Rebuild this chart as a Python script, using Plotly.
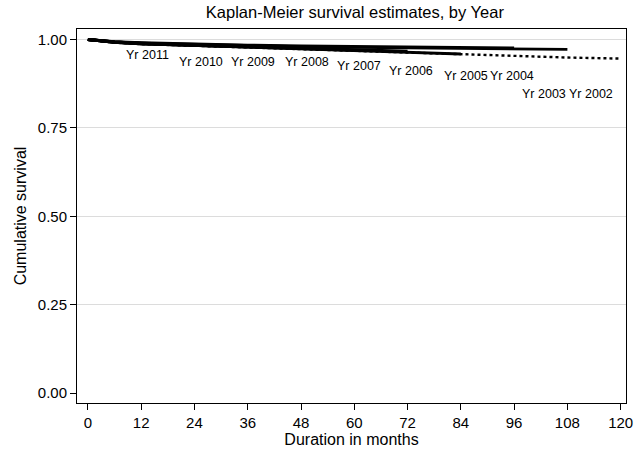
import plotly.graph_objects as go

# ---- data ----
months = [0, 3, 6, 12, 24, 36, 48, 60, 72, 84, 96, 108, 120]
years = ["2011", "2010", "2009", "2008", "2007", "2006", "2005", "2004", "2003", "2002"]
surv = {
    "2011": [1.0, 0.995, 0.992, 0.989],
    "2010": [1.0, 0.996, 0.993, 0.990, 0.985],
    "2009": [1.0, 0.995, 0.992, 0.988, 0.983, 0.979],
    "2008": [1.0, 0.996, 0.993, 0.989, 0.985, 0.980, 0.976],
    "2007": [1.0, 0.995, 0.992, 0.988, 0.984, 0.979, 0.974, 0.969],
    "2006": [1.0, 0.996, 0.993, 0.989, 0.985, 0.981, 0.977, 0.972, 0.967],
    "2005": [1.0, 0.995, 0.992, 0.988, 0.983, 0.978, 0.974, 0.969, 0.964, 0.959],
    "2004": [1.0, 0.996, 0.994, 0.991, 0.987, 0.984, 0.982, 0.980, 0.978, 0.977, 0.976],
    "2003": [1.0, 0.996, 0.993, 0.990, 0.986, 0.983, 0.980, 0.978, 0.976, 0.974, 0.973, 0.972],
    "2002": [1.0, 0.995, 0.991, 0.987, 0.982, 0.977, 0.972, 0.967, 0.962, 0.957, 0.953, 0.949, 0.946],
}
label_text = ["Yr 2011", "Yr 2010", "Yr 2009", "Yr 2008", "Yr 2007",
              "Yr 2006", "Yr 2005", "Yr 2004", "Yr 2003", "Yr 2002"]
label_t = [13.4, 25.5, 37.3, 49.4, 61.0, 72.8, 85.1, 95.6, 102.8, 113.3]
label_s = [0.955, 0.935, 0.935, 0.935, 0.924, 0.912, 0.898, 0.898, 0.845, 0.845]
yticks = [0, 0.25, 0.5, 0.75, 1.0]
grid_vals = [0.25, 0.5, 0.75, 1.0]
xticks = [0, 12, 24, 36, 48, 60, 72, 84, 96, 108, 120]

FONT = "Liberation Sans, Arial, Helvetica, sans-serif"
yr = [-0.0283, 1.0297]

fig = go.Figure()
# invisible trace to anchor the grid axis
fig.add_trace(go.Scatter(x=[0], y=[0], yaxis="y2", mode="markers",
                         marker=dict(opacity=0), showlegend=False, hoverinfo="skip"))
for yv in years:
    vals = surv[yv]
    fig.add_trace(go.Scatter(
        x=months[:len(vals)], y=vals, mode="lines",
        line=dict(color="black", width=2.8 if yv != "2002" else 2.4,
                  dash="dot" if yv == "2002" else "solid"),
        showlegend=False, name="Yr " + yv))

for txt, t, s in zip(label_text, label_t, label_s):
    fig.add_annotation(x=t, y=s, text=txt, showarrow=False,
                       font=dict(size=12.5, color="black", family=FONT))

fig.update_layout(
    width=636, height=451,
    margin=dict(l=77, r=3, t=29, b=48),
    paper_bgcolor="white", plot_bgcolor="white",
    font=dict(family=FONT, color="black"),
    title=dict(text="Kaplan-Meier survival estimates, by Year", x=0.558, xanchor="center",
               y=0.973, yanchor="middle", font=dict(size=16.5, family=FONT, color="black")),
    xaxis=dict(range=[-2.45, 121.2], tickvals=xticks, ticks="outside", ticklen=6,
               tickcolor="black", showline=True, linecolor="black", linewidth=1, mirror=True,
               showgrid=False, zeroline=False, tickfont=dict(size=15),
               ticklabeloverflow="allow",
               title=dict(text="Duration in months", font=dict(size=16), standoff=1)),
    yaxis=dict(range=yr, tickvals=yticks, tickformat=".2f", ticks="outside", ticklen=6,
               tickcolor="black", showline=True, linecolor="black", linewidth=1, mirror=True,
               showgrid=False, zeroline=False, tickfont=dict(size=15),
               title=dict(text="Cumulative survival", font=dict(size=16), standoff=7)),
    yaxis2=dict(range=yr, overlaying="y", tickvals=grid_vals, showgrid=True,
                gridcolor="#dcdcdc", gridwidth=1.2, showticklabels=False, ticks="",
                zeroline=False, showline=False),
)
fig.write_html("out.html")
